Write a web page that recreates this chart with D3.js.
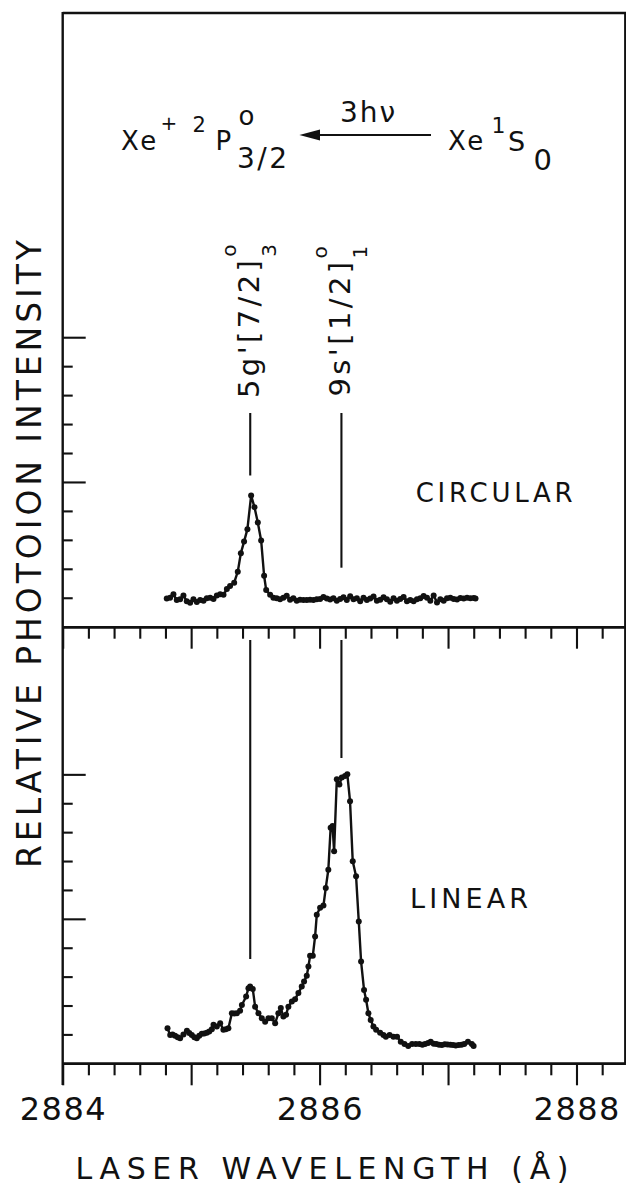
<!DOCTYPE html>
<html>
<head>
<meta charset="utf-8">
<script src="https://cdn.jsdelivr.net/npm/d3@7"></script>
<style>
  html, body { margin: 0; padding: 0; background: #fff; }
  svg { display: block; }
  text { font-family: "DejaVu Sans", "Liberation Sans", sans-serif; fill: #111; }
</style>
</head>
<body>
<svg id="chart" width="626" height="1185"></svg>
<script>
// [wavelength (Å), relative photoion intensity]
const circular = [
  [2884.810, 0.97], [2884.836, 1.00], [2884.862, 1.12], [2884.888, 0.92], [2884.914, 0.95],
  [2884.940, 1.08], [2884.966, 0.88], [2884.992, 0.83], [2885.018, 0.95], [2885.044, 0.85],
  [2885.070, 0.92], [2885.096, 0.90], [2885.122, 0.98], [2885.148, 1.00], [2885.174, 0.96],
  [2885.200, 1.08], [2885.226, 1.12], [2885.252, 1.10], [2885.278, 1.30], [2885.303, 1.41],
  [2885.335, 1.52], [2885.363, 1.90], [2885.387, 2.54], [2885.412, 2.94], [2885.438, 3.37],
  [2885.467, 4.53], [2885.493, 4.13], [2885.519, 3.60], [2885.545, 2.98], [2885.568, 1.76],
  [2885.584, 1.27], [2885.615, 1.10], [2885.640, 1.00], [2885.666, 0.98], [2885.692, 0.95],
  [2885.718, 1.00], [2885.744, 1.07], [2885.770, 0.93], [2885.796, 0.98], [2885.822, 0.90],
  [2885.848, 0.93], [2885.874, 0.92], [2885.900, 0.92], [2885.926, 0.93], [2885.952, 0.92],
  [2885.978, 0.95], [2886.004, 0.96], [2886.030, 1.03], [2886.056, 0.97], [2886.082, 0.94],
  [2886.108, 0.98], [2886.134, 0.90], [2886.160, 0.96], [2886.186, 1.02], [2886.212, 0.92],
  [2886.238, 1.05], [2886.264, 0.95], [2886.290, 0.98], [2886.316, 0.88], [2886.342, 1.00],
  [2886.368, 0.92], [2886.394, 0.97], [2886.420, 1.04], [2886.446, 0.90], [2886.472, 0.93],
  [2886.498, 1.02], [2886.524, 0.95], [2886.550, 0.86], [2886.576, 0.98], [2886.602, 0.90],
  [2886.628, 0.96], [2886.654, 1.03], [2886.680, 0.88], [2886.706, 0.92], [2886.732, 0.88],
  [2886.758, 0.95], [2886.784, 0.98], [2886.810, 1.06], [2886.836, 1.00], [2886.862, 0.90],
  [2886.888, 1.08], [2886.914, 0.84], [2886.940, 0.95], [2886.966, 0.90], [2886.992, 0.98],
  [2887.018, 1.00], [2887.044, 0.96], [2887.070, 0.94], [2887.096, 0.99], [2887.122, 0.97],
  [2887.148, 1.00], [2887.174, 0.98], [2887.200, 0.99], [2887.214, 0.97]
];

const linear = [
  [2884.816, 1.21], [2884.837, 0.98], [2884.855, 1.00], [2884.875, 0.95], [2884.895, 0.90],
  [2884.914, 0.87], [2884.940, 1.00], [2884.967, 1.13], [2884.985, 1.05], [2885.005, 0.98],
  [2885.025, 0.90], [2885.044, 0.87], [2885.063, 0.95], [2885.083, 1.02], [2885.102, 1.03],
  [2885.122, 1.06], [2885.141, 1.10], [2885.161, 1.18], [2885.174, 1.33], [2885.200, 1.27],
  [2885.226, 1.39], [2885.251, 1.16], [2885.270, 1.18], [2885.290, 1.21], [2885.317, 1.73],
  [2885.336, 1.72], [2885.356, 1.73], [2885.381, 1.82], [2885.395, 2.02], [2885.428, 2.31],
  [2885.446, 2.60], [2885.459, 2.66], [2885.480, 2.57], [2885.498, 1.96], [2885.524, 1.73],
  [2885.550, 1.56], [2885.576, 1.44], [2885.602, 1.56], [2885.628, 1.56], [2885.654, 1.39],
  [2885.679, 1.73], [2885.698, 1.91], [2885.718, 1.62], [2885.739, 1.68], [2885.757, 1.96],
  [2885.784, 2.14], [2885.809, 2.22], [2885.835, 2.43], [2885.861, 2.66], [2885.879, 2.83],
  [2885.900, 3.03], [2885.913, 3.35], [2885.926, 3.72], [2885.947, 3.72], [2885.965, 4.39],
  [2885.978, 5.14], [2886.004, 5.38], [2886.030, 5.46], [2886.048, 6.07], [2886.068, 6.70],
  [2886.086, 8.15], [2886.101, 8.21], [2886.113, 7.34], [2886.134, 9.83], [2886.154, 9.65],
  [2886.173, 9.89], [2886.198, 9.94], [2886.216, 10.00], [2886.237, 9.07], [2886.258, 6.99],
  [2886.284, 6.47], [2886.305, 4.91], [2886.323, 3.52], [2886.346, 2.54], [2886.362, 2.20],
  [2886.380, 1.73], [2886.398, 1.50], [2886.419, 1.27], [2886.440, 1.16], [2886.471, 1.06],
  [2886.497, 0.98], [2886.516, 0.92], [2886.545, 0.98], [2886.575, 0.92], [2886.603, 0.92],
  [2886.632, 0.75], [2886.661, 0.67], [2886.690, 0.60], [2886.720, 0.67], [2886.749, 0.67],
  [2886.777, 0.67], [2886.800, 0.64], [2886.821, 0.67], [2886.845, 0.70], [2886.865, 0.75],
  [2886.888, 0.68], [2886.909, 0.67], [2886.930, 0.64], [2886.952, 0.63], [2886.975, 0.66],
  [2886.996, 0.65], [2887.018, 0.64], [2887.039, 0.63], [2887.060, 0.62], [2887.083, 0.63],
  [2887.105, 0.64], [2887.126, 0.67], [2887.155, 0.75], [2887.185, 0.67], [2887.199, 0.60]
];

const xTickLabels = ['2884', '2886', '2888'];
const xMajorTicks = [2884, 2885, 2886, 2887, 2888];
const xMinorTicks = [2884.2, 2884.4, 2884.6, 2884.8, 2885.2, 2885.4, 2885.6, 2885.8,
  2886.2, 2886.4, 2886.6, 2886.8, 2887.2, 2887.4, 2887.6, 2887.8, 2888.2];
const yMajorTicks = [5, 10];
const yMinorTicks = [1, 2, 3, 4, 6, 7, 8, 9];

// the two Xe levels marked on the scans
const transitions = [
  { base: "5g'[7/2]", sup: 'o', sub: '3', wl: 2885.46 },
  { base: "9s'[1/2]", sup: 'o', sub: '1', wl: 2886.17 }
];

const svg = d3.select('#chart');
const ink = '#111';

const x = d3.scaleLinear().domain([2884, 2888.38]).range([62.7, 625.3]);
const yTop = d3.scaleLinear().domain([0, 21.2]).range([626.7, 13]);
const yBot = d3.scaleLinear().domain([0, 15.1]).range([1063.3, 627]);

// frame
const frame = svg.append('g').attr('stroke', ink).attr('stroke-width', 2.4);
frame.append('line').attr('x1', x(2884)).attr('x2', 626).attr('y1', 13).attr('y2', 13);
frame.append('line').attr('x1', x(2884)).attr('x2', x(2884)).attr('y1', 12).attr('y2', 1085);
frame.append('line').attr('x1', x.range()[1]).attr('x2', x.range()[1]).attr('y1', 12).attr('y2', yBot(0));

function xAxis(yPos, values, size) {
  const g = svg.append('g')
    .attr('transform', `translate(0,${yPos})`)
    .call(d3.axisBottom(x).tickValues(values).tickSize(size).tickSizeOuter(0).tickFormat(''));
  g.select('.domain').attr('stroke', ink).attr('stroke-width', 2.4);
  g.selectAll('.tick line').attr('stroke', ink).attr('stroke-width', 2.1);
  return g;
}
[yTop(0), yBot(0)].forEach((yPos) => {
  xAxis(yPos, xMinorTicks, 12);
  xAxis(yPos, xMajorTicks, 22);
});

function yAxis(scale, values, size) {
  const g = svg.append('g')
    .attr('transform', `translate(${x(2884)},0)`)
    .call(d3.axisRight(scale).tickValues(values).tickSize(size).tickSizeOuter(0).tickFormat(''));
  g.select('.domain').remove();
  g.selectAll('.tick line').attr('stroke', ink).attr('stroke-width', 2.1);
}
[yTop, yBot].forEach((scale) => {
  yAxis(scale, yMinorTicks, 10);
  yAxis(scale, yMajorTicks, 23);
});

// tick labels
svg.append('g').selectAll('text')
  .data(xTickLabels)
  .join('text')
  .attr('x', (d) => x(+d))
  .attr('y', 1120)
  .attr('text-anchor', 'middle')
  .attr('font-size', 32)
  .attr('letter-spacing', 1.5)
  .attr('dx', 0.75)
  .text((d) => d);

svg.append('text')
  .attr('x', 75.5).attr('y', 1179)
  .attr('font-size', 30)
  .attr('textLength', 493).attr('lengthAdjust', 'spacing')
  .text('LASER WAVELENGTH (Å)');

svg.append('text')
  .attr('transform', 'translate(41,868) rotate(-90)')
  .attr('font-size', 33)
  .attr('textLength', 628).attr('lengthAdjust', 'spacing')
  .text('RELATIVE PHOTOION INTENSITY');

// the scans
function scan(data, yScale) {
  const g = svg.append('g');
  g.append('path')
    .datum(data)
    .attr('fill', 'none')
    .attr('stroke', ink)
    .attr('stroke-width', 2.4)
    .attr('stroke-linejoin', 'round')
    .attr('d', d3.line().x((d) => x(d[0])).y((d) => yScale(d[1])));
  g.selectAll('circle')
    .data(data)
    .join('circle')
    .attr('cx', (d) => x(d[0]))
    .attr('cy', (d) => yScale(d[1]))
    .attr('r', 3)
    .attr('fill', ink);
}
scan(circular, yTop);
scan(linear, yBot);

svg.append('text').attr('x', 415.7).attr('y', 501.7)
  .attr('font-size', 26).attr('textLength', 157).attr('lengthAdjust', 'spacing')
  .text('CIRCULAR');
svg.append('text').attr('x', 410).attr('y', 908.3)
  .attr('font-size', 27).attr('textLength', 118).attr('lengthAdjust', 'spacing')
  .text('LINEAR');

// level markers and their labels
const markEnds = [[413, 475.5, 640, 959], [413, 567.7, 640, 758]];
transitions.forEach((t, i) => {
  const xm = x(t.wl);
  const [a1, a2, b1, b2] = markEnds[i];
  svg.append('line').attr('x1', xm).attr('x2', xm).attr('y1', a1).attr('y2', a2)
    .attr('stroke', ink).attr('stroke-width', 2.1);
  svg.append('line').attr('x1', xm).attr('x2', xm).attr('y1', b1).attr('y2', b2)
    .attr('stroke', ink).attr('stroke-width', 2.1);

  const label = svg.append('text')
    .attr('transform', `translate(${xm + 9},${398 - i * 1.5}) rotate(-90)`)
    .attr('font-size', 29)
    .attr('letter-spacing', 3.4);
  label.append('tspan').text(t.base);
  label.append('tspan').attr('font-size', 20).attr('dy', -23).text(t.sup);
  label.append('tspan').attr('font-size', 20).attr('dx', -15.6).attr('dy', 39.7).text(t.sub);
});

// Xe+ 2P°3/2 <-- 3hν -- Xe 1S0
const header = svg.append('g');
header.append('text').attr('x', 121).attr('y', 150).attr('font-size', 26).attr('letter-spacing', 2.5).text('Xe');
header.append('text').attr('x', 160.5).attr('y', 130).attr('font-size', 20).text('+');
header.append('text').attr('x', 192.5).attr('y', 131.7).attr('font-size', 21).text('2');
header.append('text').attr('x', 215.5).attr('y', 150).attr('font-size', 26).text('P');
header.append('text').attr('x', 238.5).attr('y', 125).attr('font-size', 26).text('o');
header.append('text').attr('x', 237).attr('y', 168.3).attr('font-size', 28).attr('letter-spacing', 2.5).text('3/2');
header.append('line').attr('x1', 316).attr('x2', 431).attr('y1', 135).attr('y2', 135)
  .attr('stroke', ink).attr('stroke-width', 2.2);
header.append('path').attr('d', 'M299.4,135 L320,129.5 L320,140.5 Z').attr('fill', ink);
header.append('text').attr('x', 340).attr('y', 121.7).attr('font-size', 28).attr('letter-spacing', 2).text('3hν');
header.append('text').attr('x', 448).attr('y', 150).attr('font-size', 26).attr('letter-spacing', 2.5).text('Xe');
header.append('text').attr('x', 491.5).attr('y', 133).attr('font-size', 22).text('1');
header.append('text').attr('x', 508).attr('y', 150.7).attr('font-size', 27).text('S');
header.append('text').attr('x', 533.5).attr('y', 170).attr('font-size', 29).text('0');
</script>
</body>
</html>
